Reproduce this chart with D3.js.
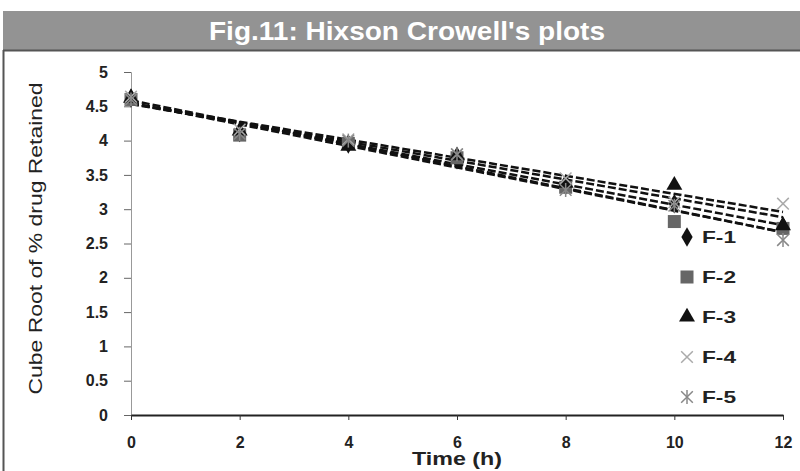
<!DOCTYPE html>
<html>
<head>
<meta charset="utf-8">
<script src="https://cdn.jsdelivr.net/npm/d3@7"></script>
<style>
  body { margin: 0; background: #fff; }
  svg { display: block; }
</style>
</head>
<body>
<div id="chart"></div>
<script>
const time = [0, 2, 4, 6, 8, 10, 12];
const seriesNames = ["F-1", "F-2", "F-3", "F-4", "F-5"];
const f1 = [4.62, 4.12, 3.95, 3.72, 3.35, 3.08, 2.75];
const f2 = [4.60, 4.08, 3.96, 3.75, 3.32, 2.82, 2.72];
const f3 = [4.62, 4.14, 3.92, 3.78, 3.38, 3.35, 2.76];
const f4 = [4.64, 4.16, 4.02, 3.80, 3.45, 3.10, 3.08];
const f5 = [4.60, 4.10, 4.00, 3.80, 3.28, 3.05, 2.55];
const xTicks = [0, 2, 4, 6, 8, 10, 12];
const yTicks = [0, 0.5, 1, 1.5, 2, 2.5, 3, 3.5, 4, 4.5, 5];

const seriesValues = [f1, f2, f3, f4, f5];

function init() {
    const width = 800;
    const height = 471;
    const margin = { top: 72, right: 17, bottom: 56, left: 131 };
    const font = "'Liberation Sans', Arial, sans-serif";

    const svg = d3.select("#chart")
                  .append("svg")
                  .attr("width", width)
                  .attr("height", height);

    // title bar
    svg.append("rect")
       .attr("x", 3).attr("y", 11)
       .attr("width", width - 3).attr("height", 39)
       .attr("fill", "#939393");
    svg.append("line")
       .attr("x1", 3).attr("x2", width).attr("y1", 50.5).attr("y2", 50.5)
       .attr("stroke", "#555").attr("stroke-width", 2);
    svg.append("line")
       .attr("x1", 3.5).attr("x2", 3.5).attr("y1", 50).attr("y2", height)
       .attr("stroke", "#555").attr("stroke-width", 2);
    svg.append("text")
       .attr("x", 407).attr("y", 40)
       .attr("text-anchor", "middle")
       .attr("textLength", 396)
       .attr("lengthAdjust", "spacingAndGlyphs")
       .style("font-family", font)
       .style("font-size", "25px")
       .style("font-weight", "bold")
       .style("fill", "#fff")
       .text("Fig.11: Hixson Crowell's plots");

    const x = d3.scaleLinear().domain([0, 12]).range([margin.left, width - margin.right]);
    const y = d3.scaleLinear().domain([0, 5]).range([height - margin.bottom, margin.top]);

    // y axis (gray)
    const yAxis = svg.append("g")
       .attr("transform", `translate(${x(0)},0)`)
       .call(d3.axisLeft(y).tickValues(yTicks).tickSize(7).tickPadding(16).tickFormat(d3.format("")));
    yAxis.select(".domain").attr("stroke", "#999");
    yAxis.selectAll(".tick line").attr("stroke", "#666");
    yAxis.selectAll("text")
         .style("font-family", font)
         .style("font-size", "16px")
         .style("font-weight", "bold")
         .style("fill", "#222");

    // x axis (black)
    const xAxis = svg.append("g")
       .attr("transform", `translate(0,${y(0)})`)
       .call(d3.axisBottom(x).tickValues(xTicks).tickSize(5).tickSizeOuter(0).tickPadding(17));
    xAxis.select(".domain").attr("stroke", "#222").attr("stroke-width", 2);
    xAxis.selectAll(".tick line").attr("stroke", "#333");
    xAxis.selectAll("text")
         .style("font-family", font)
         .style("font-size", "16px")
         .style("font-weight", "bold")
         .style("fill", "#222");

    // axis titles
    svg.append("text")
       .attr("transform", `translate(42,${(y(0) + y(5)) / 2 - 5}) rotate(-90)`)
       .attr("text-anchor", "middle")
       .attr("textLength", 312)
       .attr("lengthAdjust", "spacingAndGlyphs")
       .style("font-family", font)
       .style("font-size", "19px")
       .style("fill", "#222")
       .text("Cube Root of % drug Retained");
    svg.append("text")
       .attr("x", 457).attr("y", 465)
       .attr("text-anchor", "middle")
       .attr("textLength", 90)
       .attr("lengthAdjust", "spacingAndGlyphs")
       .style("font-family", font)
       .style("font-size", "18px")
       .style("font-weight", "bold")
       .style("fill", "#222")
       .text("Time (h)");

    // linear trendlines (least squares)
    seriesValues.forEach(vals => {
        const mx = d3.mean(time), my = d3.mean(vals);
        let sxy = 0, sxx = 0;
        time.forEach((t, i) => { sxy += (t - mx) * (vals[i] - my); sxx += (t - mx) * (t - mx); });
        const slope = sxy / sxx;
        const icpt = my - slope * mx;
        svg.append("line")
           .attr("x1", x(0)).attr("y1", y(icpt))
           .attr("x2", x(12)).attr("y2", y(icpt + slope * 12))
           .attr("stroke", "#111")
           .attr("stroke-width", 2.5)
           .attr("stroke-dasharray", "8,3");
    });

    // markers
    const markerColors = ["#111", "#666", "#111", "#aaa", "#888"];
    function drawMarker(g, i, cx, cy) {
        const c = markerColors[i];
        if (i === 0) {
            g.append("path").attr("d", d3.symbol(d3.symbolDiamond, 110)()).attr("transform", `translate(${cx},${cy})`).attr("fill", c);
        } else if (i === 1) {
            g.append("rect").attr("x", cx - 6.5).attr("y", cy - 6.5).attr("width", 13).attr("height", 13).attr("fill", c);
        } else if (i === 2) {
            g.append("path").attr("d", d3.symbol(d3.symbolTriangle, 110)()).attr("transform", `translate(${cx},${cy})`).attr("fill", c);
        } else if (i === 3) {
            g.append("path").attr("d", d3.symbol(d3.symbolTimes, 90)()).attr("transform", `translate(${cx},${cy})`)
             .attr("fill", "none").attr("stroke", c).attr("stroke-width", 1.5);
        } else {
            g.append("path").attr("d", d3.symbol(d3.symbolTimes, 90)()).attr("transform", `translate(${cx},${cy})`)
             .attr("fill", "none").attr("stroke", c).attr("stroke-width", 1.5);
            g.append("line").attr("x1", cx).attr("x2", cx).attr("y1", cy - 7).attr("y2", cy + 7)
             .attr("stroke", c).attr("stroke-width", 1.5);
        }
    }

    const pts = svg.append("g");
    seriesValues.forEach((vals, i) => {
        vals.forEach((v, j) => drawMarker(pts, i, x(time[j]), y(v)));
    });

    // legend
    const legend = svg.append("g");
    seriesNames.forEach((name, i) => {
        const ly = 237 + i * 40;
        drawMarker(legend, i, 687, ly);
        legend.append("text")
              .attr("x", 702).attr("y", ly + 6)
              .attr("textLength", 34)
              .attr("lengthAdjust", "spacingAndGlyphs")
              .style("font-family", font)
              .style("font-size", "17px")
              .style("font-weight", "bold")
              .style("fill", "#222")
              .text(name);
    });
}

window.onload = init;
</script>
</body>
</html>
